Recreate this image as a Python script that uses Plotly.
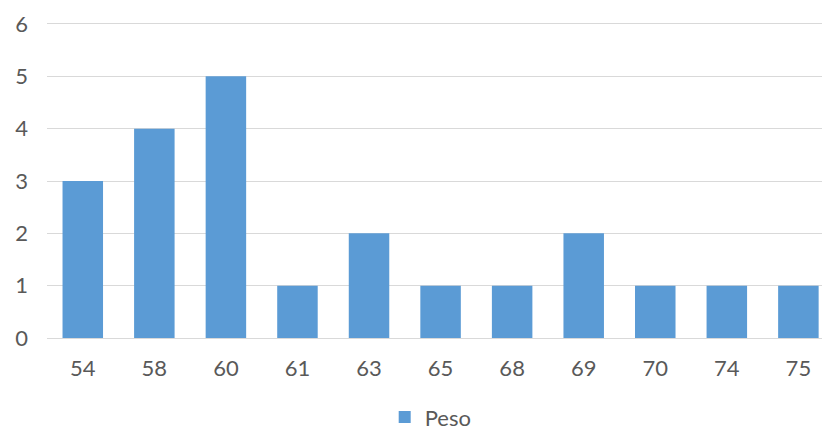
import plotly.graph_objects as go

# Weight values (kg) and how many times each occurs
pesos = ["54", "58", "60", "61", "63", "65", "68", "69", "70", "74", "75"]
frecuencias = [3, 4, 5, 1, 2, 1, 1, 2, 1, 1, 1]
y_ticks = [0, 1, 2, 3, 4, 5, 6]

BAR_COLOR = "#5B9BD5"
GRID_COLOR = "#D9D9D9"
TEXT_COLOR = "#595959"
FONT = "Lato"

fig = go.Figure(
    go.Bar(
        x=pesos,
        y=frecuencias,
        name="Peso",
        marker=dict(color=BAR_COLOR, line=dict(width=0)),
        showlegend=True,
    )
)

fig.update_layout(
    width=822,
    height=432,
    margin=dict(l=47, r=0, t=24, b=94),
    paper_bgcolor="white",
    plot_bgcolor="white",
    bargap=0.434,
    font=dict(family=FONT, size=22, color=TEXT_COLOR),
    showlegend=True,
    legend=dict(
        orientation="h",
        xref="container",
        yref="container",
        x=0.468,
        xanchor="left",
        y=0.034,
        yanchor="middle",
        font=dict(family=FONT, size=22, color=TEXT_COLOR),
        bgcolor="rgba(0,0,0,0)",
    ),
)

fig.update_xaxes(
    type="category",
    categoryorder="array",
    categoryarray=pesos,
    range=[-0.5, 10.33],
    showgrid=False,
    showline=True,
    mirror=True,
    linecolor=GRID_COLOR,
    linewidth=1,
    ticks="",
    ticklabelstandoff=11,
    tickfont=dict(family=FONT, size=22, color=TEXT_COLOR),
)

fig.update_yaxes(
    range=[0, 6],
    tickvals=y_ticks,
    showgrid=True,
    gridcolor=GRID_COLOR,
    gridwidth=1,
    zeroline=False,
    ticks="",
    ticklabelstandoff=18,
    tickfont=dict(family=FONT, size=22, color=TEXT_COLOR),
)

fig.write_html("out.html")
